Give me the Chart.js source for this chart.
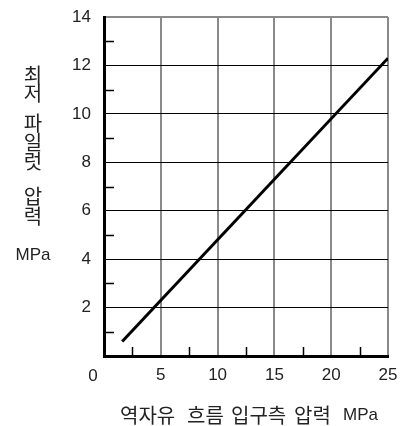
<!DOCTYPE html>
<html><head><meta charset="utf-8">
<script src="https://cdn.jsdelivr.net/npm/chart.js@4/dist/chart.umd.min.js"></script>
<style>html,body{margin:0;padding:0;background:#fff}#wrap{width:405px;height:426px}</style>
</head><body><div id="wrap"><canvas id="c" width="405" height="426"></canvas></div>
<script>
const xValues = [1.6, 25];
const yValues = [0.6, 12.3];
const xTicks = [0, 5, 10, 15, 20, 25];
const yTicks = [0, 2, 4, 6, 8, 10, 12, 14];
const xMinor = [2.5, 7.5, 12.5, 17.5, 22.5];
const yMinor = [1, 3, 5, 7, 9, 11, 13];
const yTitleChars = ['최', '저', '파', '일', '럿', '압', '력'];
const yTitleUnit = 'MPa';
const xTitleWords = ['역자유', '흐름', '입구측', '압력', 'MPa'];

const NUM = '"Liberation Sans", Arial, sans-serif';
const KR = '"Noto Sans CJK KR", sans-serif';

const extras = {
  id: 'extras',
  afterDatasetsDraw(chart) {
    const ctx = chart.ctx, xs = chart.scales.x, ys = chart.scales.y;
    const ca = chart.chartArea;
    ctx.save();
    ctx.strokeStyle = '#000'; ctx.lineWidth = 1.5;
    yMinor.forEach(v => {
      const p = Math.round(ys.getPixelForValue(v)) + 0.5;
      ctx.beginPath(); ctx.moveTo(ca.left, p); ctx.lineTo(ca.left + 10, p); ctx.stroke();
    });
    xMinor.forEach(v => {
      const p = Math.round(xs.getPixelForValue(v)) + 0.5;
      ctx.beginPath(); ctx.moveTo(p, ca.bottom); ctx.lineTo(p, ca.bottom - 9); ctx.stroke();
    });
    ctx.fillStyle = '#222';
    ctx.font = '17px ' + NUM;
    ctx.textAlign = 'center'; ctx.textBaseline = 'middle';
    ctx.fillText(String(xTicks[0]), xs.getPixelForValue(0) - 11, 376);
    ctx.font = '20px ' + KR;
    const yc = [75, 93, 123, 142, 161, 196, 216];
    yTitleChars.forEach((ch, i) => ctx.fillText(ch, 33, yc[i]));
    ctx.font = '17px ' + NUM;
    ctx.fillText(yTitleUnit, 33, 255);
    ctx.textAlign = 'left';
    const xl = [120, 187, 231, 294, 343];
    xTitleWords.forEach((w, i) => {
      ctx.font = (i === 4 ? '17px ' + NUM : '20px ' + KR);
      ctx.fillText(w, xl[i], 415);
    });
    ctx.restore();
  }
};

new Chart(document.getElementById('c'), {
  type: 'scatter',
  data: {
    datasets: [{
      data: xValues.map((x, i) => ({ x, y: yValues[i] })),
      showLine: true,
      borderColor: '#000',
      borderWidth: 3,
      pointRadius: 0,
      fill: false
    }]
  },
  options: {
    responsive: false,
    animation: false,
    layout: { padding: { left: 0, top: 17, right: 17, bottom: 0 } },
    plugins: { legend: { display: false }, tooltip: { enabled: false } },
    scales: {
      x: {
        type: 'linear', min: 0, max: 25,
        afterBuildTicks: s => { s.ticks = xTicks.map(v => ({ value: v })); },
        afterFit: s => { s.height = 70; s.paddingLeft = 0; s.paddingRight = 0; },
        ticks: {
          autoSkip: false, maxRotation: 0, padding: 9, color: '#222',
          font: { family: NUM, size: 17 },
          callback: v => (v === 0 ? '' : String(v))
        },
        grid: { color: '#8a8a8a', lineWidth: 2, drawTicks: false },
        border: { color: '#000', width: 3 }
      },
      y: {
        type: 'linear', min: 0, max: 14,
        afterBuildTicks: s => { s.ticks = yTicks.map(v => ({ value: v })); },
        afterFit: s => { s.width = 104; s.paddingTop = 0; s.paddingBottom = 0; },
        ticks: {
          autoSkip: false, padding: 13, color: '#222',
          font: { family: NUM, size: 17 },
          callback: v => (v === 0 ? '' : String(v))
        },
        grid: {
          color: c => (c.tick && c.tick.value === 14 ? '#8a8a8a' : '#000'),
          lineWidth: c => (c.tick && c.tick.value === 14 ? 2 : 1),
          drawTicks: false
        },
        border: { color: '#000', width: 3 }
      }
    }
  },
  plugins: [extras]
});
</script></body></html>
